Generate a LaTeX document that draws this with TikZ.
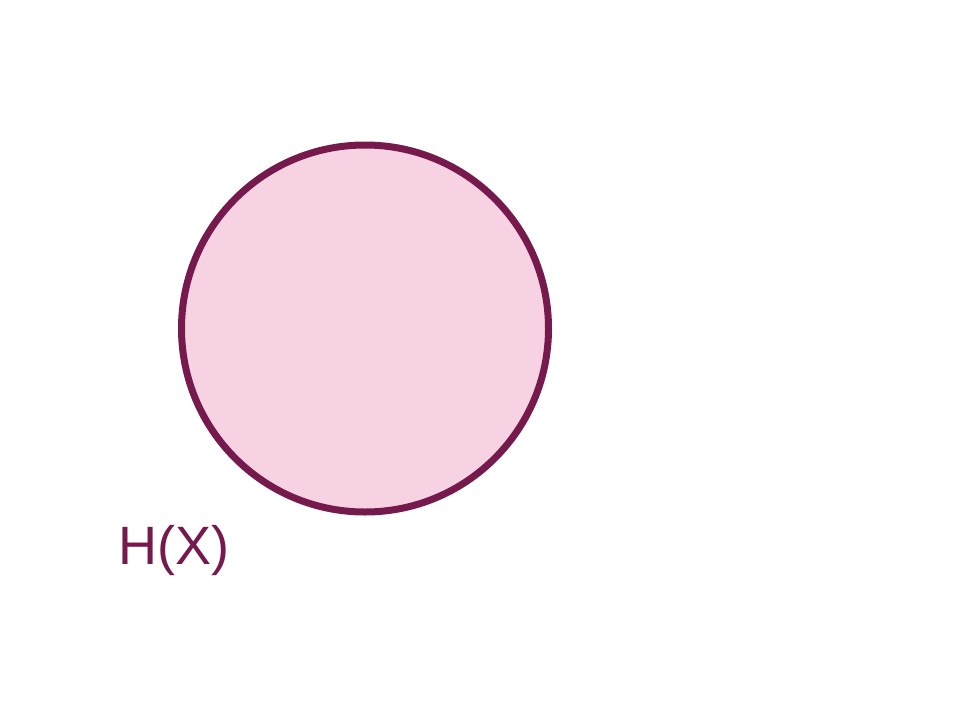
\documentclass[tikz,border=0pt]{standalone}
\usepackage{fontspec}
\setmainfont{Liberation Sans}
\definecolor{edgec}{HTML}{761A4E}
\definecolor{fillc}{HTML}{F7D2E2}
\tikzset{setc/.style={draw=edgec,fill=fillc,line width=7pt},
  lab/.style={text=edgec,font=\fontsize{54}{60}\selectfont,inner sep=0pt,anchor=base west}}
\begin{document}
\begin{tikzpicture}[x=1pt,y=1pt]
\useasboundingbox (0,0) rectangle (960,-720);
\fill[white] (0,0) rectangle (960,-720);
\draw[setc] (365,-328.5) circle (183.5);
\node[lab] (hx) at (118,-564) {H(X)};
\end{tikzpicture}
\end{document}
